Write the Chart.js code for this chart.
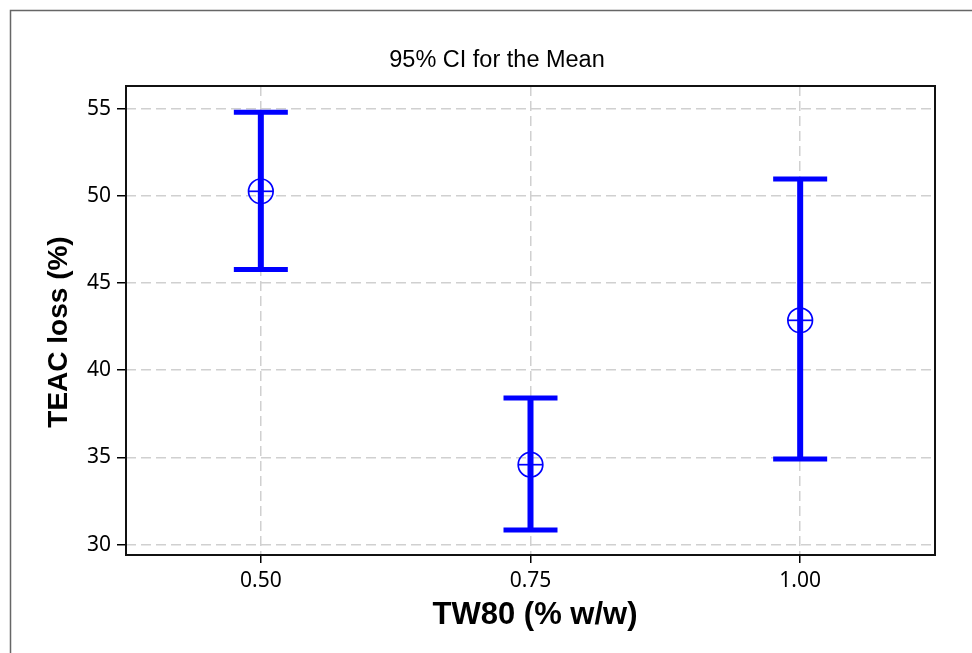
<!DOCTYPE html>
<html>
<head>
<meta charset="utf-8">
<script src="https://cdn.jsdelivr.net/npm/chart.js@4.4.1/dist/chart.umd.min.js"></script>
<style>
  html, body { margin: 0; padding: 0; background: #ffffff; }
  #wrap { width: 972px; height: 653px; position: relative; }
</style>
</head>
<body>
<div id="wrap"><canvas id="c" width="972" height="653"></canvas></div>
<script>
// ---- data ----
const categories = [0.50, 0.75, 1.00];
const xTickLabels = ['0.50', '0.75', '1.00'];
const means = [50.26, 34.58, 42.86];
const lowerCI = [45.77, 30.83, 34.91];
const upperCI = [54.80, 38.40, 50.96];
const yTicks = [30, 35, 40, 45, 50, 55];
const chartTitle = '95% CI for the Mean';
const xTitle = 'TW80 (% w/w)';
const yTitle = 'TEAC loss (%)';

const BLUE = '#0000ff';

const meanPoints = categories.map((c, i) => ({ x: c, y: means[i] }));

const decorPlugin = {
  id: 'decor',
  beforeDraw(chart) {
    const ctx = chart.ctx;
    ctx.save();
    ctx.fillStyle = '#ffffff';
    ctx.fillRect(0, 0, chart.width, chart.height);
    ctx.strokeStyle = '#666666';
    ctx.lineWidth = 1.5;
    ctx.strokeRect(10.5, 10.5, 1200, 1200);
    ctx.restore();
  },
  beforeDatasetsDraw(chart) {
    const ctx = chart.ctx;
    const xs = chart.scales.x, ys = chart.scales.y;
    ctx.save();
    ctx.strokeStyle = BLUE;
    ctx.lineCap = 'butt';
    categories.forEach((c, i) => {
      const px = xs.getPixelForValue(c);
      const pLo = ys.getPixelForValue(lowerCI[i]);
      const pHi = ys.getPixelForValue(upperCI[i]);
      ctx.lineWidth = 6;
      ctx.beginPath();
      ctx.moveTo(px, pLo);
      ctx.lineTo(px, pHi);
      ctx.stroke();
      ctx.lineWidth = 5;
      ctx.beginPath();
      ctx.moveTo(px - 27, pHi);
      ctx.lineTo(px + 27, pHi);
      ctx.moveTo(px - 27, pLo);
      ctx.lineTo(px + 27, pLo);
      ctx.stroke();
    });
    ctx.restore();
  },
  afterDraw(chart) {
    const ctx = chart.ctx;
    const a = chart.chartArea;
    ctx.save();
    ctx.strokeStyle = '#111111';
    ctx.lineWidth = 2;
    ctx.strokeRect(a.left, a.top, a.right - a.left, a.bottom - a.top);

    ctx.fillStyle = '#000000';
    ctx.textAlign = 'center';
    ctx.textBaseline = 'alphabetic';
    ctx.font = '23.5px "Liberation Sans", Arial, sans-serif';
    ctx.fillText(chartTitle, 497, 66.5);

    ctx.font = 'bold 31px "Liberation Sans", Arial, sans-serif';
    ctx.fillText(xTitle, 535, 623.5);

    ctx.translate(66.5, 332);
    ctx.rotate(-Math.PI / 2);
    ctx.font = 'bold 28px "Liberation Sans", Arial, sans-serif';
    ctx.fillText(yTitle, 0, 0);
    ctx.restore();
  }
};

new Chart(document.getElementById('c'), {
  type: 'scatter',
  data: {
    datasets: [
      {
        label: 'Mean',
        data: meanPoints,
        pointStyle: 'circle',
        pointRadius: 12.3,
        pointBorderWidth: 1.7,
        pointBorderColor: BLUE,
        pointBackgroundColor: 'rgba(0,0,0,0)',
        showLine: false
      },
      {
        label: 'MeanLine',
        data: meanPoints,
        pointStyle: 'line',
        pointRadius: 12.3,
        pointBorderWidth: 1.7,
        pointBorderColor: BLUE,
        showLine: false
      }
    ]
  },
  options: {
    responsive: false,
    animation: false,
    devicePixelRatio: 1,
    layout: { padding: { left: 0, right: 37, top: 86, bottom: 0 } },
    plugins: {
      legend: { display: false },
      tooltip: { enabled: false },
      title: { display: false }
    },
    scales: {
      x: {
        type: 'linear',
        min: 0.375,
        max: 1.125,
        afterBuildTicks(scale) { scale.ticks = categories.map(v => ({ value: v })); },
        afterFit(scale) { scale.height = 98; },
        ticks: {
          callback(value) {
            const i = categories.indexOf(value);
            return i >= 0 ? xTickLabels[i] : '';
          },
          font: { family: '"Noto Sans", "Open Sans", sans-serif', size: 21 },
          color: '#000000',
          padding: 5,
          maxRotation: 0,
          autoSkip: false
        },
        grid: {
          color: '#d0d0d0',
          lineWidth: 1.5,
          drawTicks: true,
          tickLength: 8,
          tickColor: '#000000',
          tickWidth: 1.5,
          tickBorderDash: []
        },
        border: { display: false, dash: [10, 5] }
      },
      y: {
        type: 'linear',
        min: 29.4,
        max: 56.3,
        afterBuildTicks(scale) { scale.ticks = yTicks.map(v => ({ value: v })); },
        afterFit(scale) { scale.width = 126; },
        ticks: {
          font: { family: '"Noto Sans", "Open Sans", sans-serif', size: 21 },
          color: '#000000',
          padding: 6,
          autoSkip: false
        },
        grid: {
          color: '#d0d0d0',
          lineWidth: 1.5,
          drawTicks: true,
          tickLength: 9,
          tickColor: '#000000',
          tickWidth: 1.5,
          tickBorderDash: []
        },
        border: { display: false, dash: [10, 5] }
      }
    }
  },
  plugins: [decorPlugin]
});
</script>
</body>
</html>
